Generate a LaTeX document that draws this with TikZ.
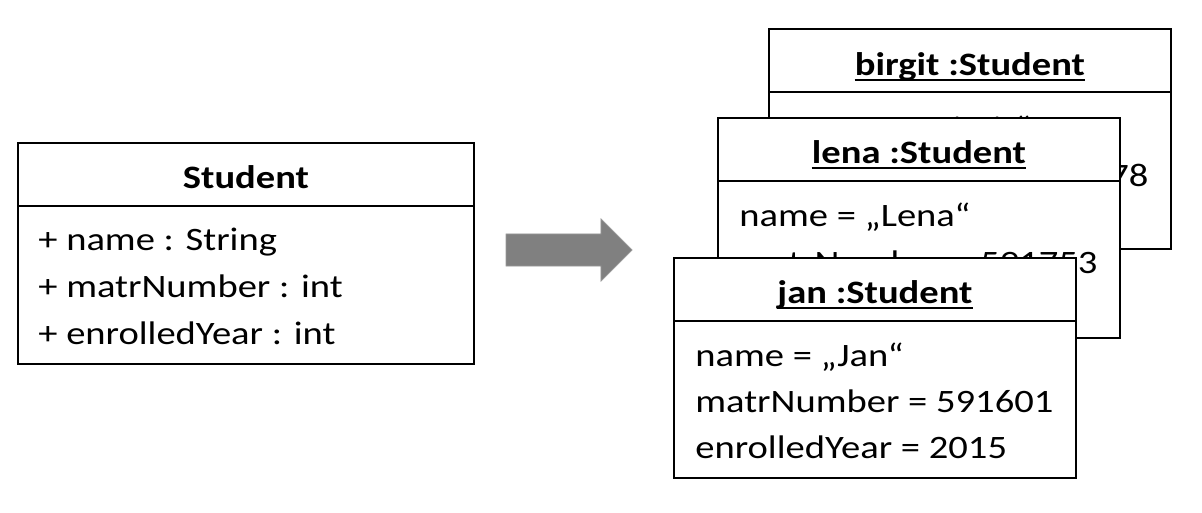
\documentclass[tikz,border=0pt]{standalone}
\usepackage{fontspec}
\setmainfont{Carlito}[FakeStretch=1.18]
\usetikzlibrary{calc,positioning,shapes.arrows}
\newcommand\umlfont{\fontsize{18.6}{26.7}\selectfont}
\tikzset{
  umlbox/.style={
      rectangle,
      draw=black,
      line width=1.1pt,
      fill=white,
      anchor=north west,
      inner sep=0pt,
      outer sep=0pt
  },
  classbox/.style={umlbox, minimum width=9.12cm, minimum height=4.42cm},
  objbox/.style={umlbox, minimum width=8.04cm, minimum height=4.4cm},
  umlhead/.style={font=\umlfont\bfseries, anchor=base, inner sep=0pt},
  umlattr/.style={font=\umlfont, anchor=base west, inner sep=0pt},
  umlline/.style={line width=1.1pt},
  headline/.style={line width=1.1pt},
  bigarrow/.style={
      single arrow,
      fill=black!50,
      draw=black!40,
      line width=0.4pt,
      inner xsep=0pt,
      inner ysep=0.314cm,
      single arrow head extend=0.3cm,
      single arrow tip angle=90,
      minimum height=2.52cm
  }
}
\begin{document}
\begin{tikzpicture}[x=0.02cm,y=-0.02cm]
    \useasboundingbox (0,0) rectangle (1202,512);
    \node[classbox] (student) at (18,143) {};
    \draw[umlline] ($(student.north west)+(0,63)$) -- ($(student.north east)+(0,63)$);
    \node[umlhead] (studenthead) at ($(student.north)+(0,45)$) {Student};
    \foreach \attr [count=\i] in {+ name : String, + matrNumber : int, + enrolledYear : int}
      \node[umlattr] (student-\i) at ($(student.north west)+(20,{107+47*(\i-1)})$) {\attr};

    \node[bigarrow] (arrow) at (561,250) {};

    \node[objbox] (birgit) at (769,29) {};
    \draw[umlline] ($(birgit.north west)+(0,63)$) -- ($(birgit.north east)+(0,63)$);
    \node[umlhead] (birgithead) at ($(birgit.north)+(0,46)$) {birgit :Student};
    \draw[headline] ($(birgithead.base west)+(0,5)$) -- ($(birgithead.base east)+(0,5)$);
    \foreach \attr [count=\i] in {name = „Birgit“, matrNumber = 591678}
      \node[umlattr] (birgit-\i) at ($(birgit.north west)+(21,{110+47*(\i-1)})$) {\attr};

    \node[objbox] (lena) at (718,118) {};
    \draw[umlline] ($(lena.north west)+(0,63)$) -- ($(lena.north east)+(0,63)$);
    \node[umlhead] (lenahead) at ($(lena.north)+(0,45)$) {lena :Student};
    \draw[headline] ($(lenahead.base west)+(0,5)$) -- ($(lenahead.base east)+(0,5)$);
    \foreach \attr [count=\i] in {name = „Lena“, matrNumber = 591753}
      \node[umlattr] (lena-\i) at ($(lena.north west)+(21,{108+47*(\i-1)})$) {\attr};

    \node[objbox] (jan) at (674,258) {};
    \draw[umlline] ($(jan.north west)+(0,63)$) -- ($(jan.north east)+(0,63)$);
    \node[umlhead] (janhead) at ($(jan.north)+(0,45)$) {jan :Student};
    \draw[headline] ($(janhead.base west)+(0,5)$) -- ($(janhead.base east)+(0,5)$);
    \foreach \attr [count=\i] in {name = „Jan“, matrNumber = 591601, enrolledYear = 2015}
      \node[umlattr] (jan-\i) at ($(jan.north west)+(21,{108+46*(\i-1)})$) {\attr};
\end{tikzpicture}
\end{document}
